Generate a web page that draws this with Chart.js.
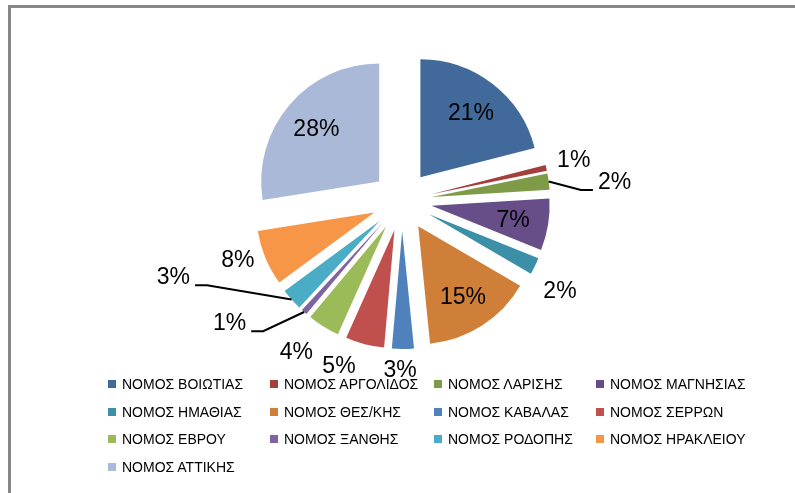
<!DOCTYPE html>
<html>
<head>
<meta charset="utf-8">
<script src="https://cdn.jsdelivr.net/npm/chart.js@4/dist/chart.umd.min.js"></script>
<style>
html, body { margin: 0; padding: 0; background: #fff; }
#frame { position: absolute; left: 0; top: 0; width: 795px; height: 493px; overflow: hidden; background: #fff; }
#border { position: absolute; left: 8px; top: 5px; width: 800px; height: 500px; border-left: 3px solid #878787; border-top: 3px solid #878787; box-sizing: border-box; }
#wrap { position: absolute; left: 0; top: 0; width: 795px; height: 402px; }
#legend { position: absolute; left: 108px; top: 370px; display: grid; grid-template-columns: 162px 164px 162px auto; grid-auto-rows: 27.7px; font-family: "Liberation Sans", Arial, sans-serif; font-size: 14px; color: #000; }
.item { display: flex; align-items: center; white-space: nowrap; }
.box { width: 8px; height: 8px; margin-right: 6px; flex: none; }
</style>
</head>
<body>
<div id="frame">
  <div id="border"></div>
  <div id="wrap"><canvas id="c" width="795" height="402"></canvas></div>
  <div id="legend"></div>
</div>
<script>
// ---- data ----
const categories = [
  'ΝΟΜΟΣ ΒΟΙΩΤΙΑΣ', 'ΝΟΜΟΣ ΑΡΓΟΛΙΔΟΣ', 'ΝΟΜΟΣ ΛΑΡΙΣΗΣ', 'ΝΟΜΟΣ ΜΑΓΝΗΣΙΑΣ',
  'ΝΟΜΟΣ ΗΜΑΘΙΑΣ', 'ΝΟΜΟΣ ΘΕΣ/ΚΗΣ', 'ΝΟΜΟΣ ΚΑΒΑΛΑΣ', 'ΝΟΜΟΣ ΣΕΡΡΩΝ',
  'ΝΟΜΟΣ ΕΒΡΟΥ', 'ΝΟΜΟΣ ΞΑΝΘΗΣ', 'ΝΟΜΟΣ ΡΟΔΟΠΗΣ', 'ΝΟΜΟΣ ΗΡΑΚΛΕΙΟΥ',
  'ΝΟΜΟΣ ΑΤΤΙΚΗΣ'
];
const shares = [21.0, 0.8, 2.2, 7.1, 2.3, 15.0, 3.0, 5.3, 4.4, 0.8, 3.0, 7.6, 27.5];

// ---- styles ----
const palette = [
  '#416A9B', '#A33F3C', '#7F9B48', '#684E89', '#3B8FA7', '#D07F39',
  '#4F81BD', '#C0504D', '#9BBB59', '#8064A2', '#4BACC6', '#F79646', '#A9B9D7'
];
const insideLabels = [0, 3, 5, 12];
const leaderLabels = [2, 9, 10];
const labelNudge = {
  1: [9, -5], 2: [47, 2], 4: [8, 16], 6: [-3, 1], 7: [-21, 2],
  8: [-17, 8], 9: [-62, -4], 10: [-104, -36], 11: [-10, -6]
};

// ---- exploded pie: library arcs translated uniformly along their mid angle ----
const BaseArc = Chart.ArcElement || Chart.elements.ArcElement;
const BasePie = Chart.PieController || Chart.controllers.pie;

class ExplodedArc extends BaseArc {
  static id = 'explodedArc';
  static defaults = { explode: 0 };
  draw(ctx) {
    const d = this.options.explode || 0;
    const mid = (this.startAngle + this.endAngle) / 2;
    ctx.save();
    ctx.translate(Math.cos(mid) * d, Math.sin(mid) * d);
    super.draw(ctx);
    ctx.restore();
  }
}
class ExplodedPieController extends BasePie {
  static id = 'explodedPie';
  static defaults = { dataElementType: 'explodedArc' };
}
Chart.register(ExplodedArc, ExplodedPieController);

const sliceLabels = {
  id: 'sliceLabels',
  afterDatasetsDraw(chart, args, opts) {
    const ctx = chart.ctx;
    const meta = chart.getDatasetMeta(0);
    const data = chart.data.datasets[0].data;
    const total = data.reduce((a, b) => a + b, 0);
    ctx.save();
    ctx.font = opts.font;
    ctx.fillStyle = '#000';
    ctx.textAlign = 'center';
    ctx.textBaseline = 'alphabetic';
    meta.data.forEach((arc, i) => {
      const p = arc.getProps(['x', 'y', 'startAngle', 'endAngle', 'outerRadius'], true);
      const d = arc.options.explode || 0;
      const mid = (p.startAngle + p.endAngle) / 2;
      const ux = Math.cos(mid), uy = Math.sin(mid);
      const text = Math.round(data[i] / total * 100) + '%';
      let lx, ly;
      if (opts.inside.includes(i)) {
        const r = d + p.outerRadius * opts.insideRatio;
        lx = p.x + ux * r; ly = p.y + uy * r;
      } else {
        const r = d + p.outerRadius + opts.outsideGap;
        const n = opts.nudge[i] || [0, 0];
        lx = p.x + ux * r + n[0]; ly = p.y + uy * r + n[1];
        if (opts.leaders.includes(i)) {
          const w = ctx.measureText(text).width;
          const sx = p.x + ux * (d + p.outerRadius);
          const sy = p.y + uy * (d + p.outerRadius);
          const right = lx > sx;
          const ex = right ? lx - w / 2 - 5 : lx + w / 2 + 5;
          const ey = ly + 9;
          const bx = right ? ex - 12 : ex + 12;
          ctx.beginPath();
          ctx.moveTo(sx, sy);
          ctx.lineTo(bx, ey);
          ctx.lineTo(ex, ey);
          ctx.lineWidth = 2;
          ctx.strokeStyle = '#000';
          ctx.stroke();
        }
      }
      ctx.fillText(text, lx, ly + 8);
    });
    ctx.restore();
  }
};

const chart = new Chart(document.getElementById('c'), {
  type: 'explodedPie',
  data: {
    labels: categories,
    datasets: [{
      data: shares,
      backgroundColor: palette,
      borderWidth: 0,
      explode: 30
    }]
  },
  options: {
    responsive: false,
    animation: false,
    events: [],
    radius: 118,
    layout: { padding: { left: 9, right: 0, top: 0, bottom: 0 } },
    plugins: {
      legend: { display: false },
      tooltip: { enabled: false },
      sliceLabels: {
        font: '23px "Liberation Sans", Arial, sans-serif',
        inside: insideLabels,
        leaders: leaderLabels,
        nudge: labelNudge,
        insideRatio: 0.7,
        outsideGap: 19
      }
    }
  },
  plugins: [sliceLabels]
});

// HTML legend built from the chart's own data
const legendEl = document.getElementById('legend');
chart.data.labels.forEach((lab, i) => {
  const item = document.createElement('div');
  item.className = 'item';
  const box = document.createElement('span');
  box.className = 'box';
  box.style.background = chart.data.datasets[0].backgroundColor[i];
  const t = document.createElement('span');
  t.textContent = lab;
  item.appendChild(box);
  item.appendChild(t);
  legendEl.appendChild(item);
});
</script>
</body>
</html>
